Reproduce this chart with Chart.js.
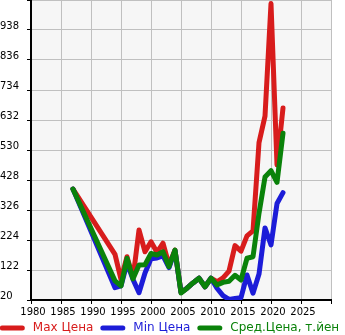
<!DOCTYPE html>
<html>
<head>
<meta charset="utf-8">
<script src="https://cdn.jsdelivr.net/npm/chart.js@4.4.1/dist/chart.umd.min.js"></script>
<style>
  html, body { margin: 0; padding: 0; background: #fff; }
  canvas { display: block; }
</style>
</head>
<body>
<canvas id="chart" width="345" height="335"></canvas>
<script>
// price history by model year
const years = [1987, 1994, 1995, 1996, 1997, 1998, 1999, 2000, 2001, 2002, 2003, 2004,
  2005, 2006, 2007, 2008, 2009, 2010, 2011, 2012, 2013, 2014, 2015, 2016, 2017,
  2018, 2019, 2020, 2021, 2022];
const maxPrice = [397, 175, 90, 167, 95, 258, 184, 218, 182, 213, 139, 190,
  46, 60, 78, 94, 65, 94, 82, 95, 118, 205, 186, 238, 255,
  555, 645, 1028, 479, 673];
const minPrice = [397, 62, 68, 145, 90, 45, 112, 160, 163, 170, 130, 188,
  46, 60, 78, 94, 65, 94, 60, 35, 22, 25, 28, 105, 43,
  108, 265, 207, 348, 385];
const avgPrice = [397, 85, 68, 162, 92, 139, 140, 178, 173, 184, 133, 190,
  44, 60, 78, 94, 65, 94, 71, 80, 84, 104, 88, 162, 167,
  315, 438, 460, 420, 587];

const seriesNames = ['Max Цена', 'Min Цена', 'Сред.Цена, т.йен'];
const yearTicks = [1980, 1985, 1990, 1995, 2000, 2005, 2010, 2015, 2020, 2025];
const priceTicks = [20, 122, 224, 326, 428, 530, 632, 734, 836, 938];

const colors = ['#d81c1c', '#1c1cd8', '#0a820a'];
const font = 'DejaVu Sans';

function points(values) {
  return years.map((yr, i) => ({ x: yr, y: values[i] }));
}

function series(idx, values, order) {
  return {
    label: seriesNames[idx],
    data: points(values),
    borderColor: colors[idx],
    backgroundColor: colors[idx],
    borderWidth: 5,
    borderJoinStyle: 'round',
    borderCapStyle: 'round',
    pointRadius: 0,
    tension: 0,
    order: order
  };
}

// grey plot background
const plotBg = {
  id: 'plotBg',
  beforeDraw(chart) {
    const a = chart.chartArea;
    const ctx = chart.ctx;
    ctx.save();
    ctx.fillStyle = '#f6f6f6';
    ctx.fillRect(a.left, a.top, a.right - a.left, a.bottom - a.top);
    ctx.restore();
  }
};

// single-row legend, centred, allowed to run past the edges
const rowLegend = {
  id: 'rowLegend',
  afterDraw(chart) {
    const ctx = chart.ctx;
    const sets = chart.data.datasets;
    ctx.save();
    ctx.font = '12px "' + font + '"';
    ctx.textBaseline = 'middle';
    const sample = 20, cap = 2.5, gap = 8, spacing = 7;
    const widths = sets.map(ds => cap * 2 + sample + gap + ctx.measureText(ds.label).width);
    const total = widths.reduce((s, w) => s + w, 0) + spacing * (sets.length - 1);
    let x = chart.width / 2 - total / 2 - 3;
    const y = 328;
    sets.forEach((ds, i) => {
      ctx.strokeStyle = ds.borderColor;
      ctx.lineWidth = 5;
      ctx.lineCap = 'round';
      ctx.beginPath();
      ctx.moveTo(x + cap, y);
      ctx.lineTo(x + cap + sample, y);
      ctx.stroke();
      ctx.fillStyle = ds.borderColor;
      ctx.fillText(ds.label, x + cap * 2 + sample + gap, y);
      x += widths[i] + spacing;
    });
    ctx.restore();
  }
};

new Chart(document.getElementById('chart').getContext('2d'), {
  type: 'line',
  data: {
    datasets: [
      series(0, maxPrice, 3),
      series(1, minPrice, 2),
      series(2, avgPrice, 1)
    ]
  },
  options: {
    responsive: false,
    animation: false,
    layout: { padding: { left: 0, right: 14, top: 0, bottom: 0 } },
    plugins: {
      legend: { display: false },
      tooltip: { enabled: false }
    },
    scales: {
      x: {
        type: 'linear',
        min: 1980,
        max: 2030,
        afterFit(s) {
          s.height = 35;
          s.paddingLeft = 0;
          s.paddingRight = 0;
        },
        border: { color: '#000', width: 2 },
        grid: { color: '#c0c0c0', lineWidth: 1, tickColor: '#000', tickLength: 4 },
        ticks: {
          stepSize: 5,
          autoSkip: false,
          maxRotation: 0,
          padding: 2,
          labelOffset: 2,
          color: '#000',
          font: { family: font, size: 10 },
          callback: v => yearTicks.includes(v) ? String(v) : ''
        }
      },
      y: {
        min: 20,
        max: 1040,
        afterFit(s) {
          s.width = 31;
          s.paddingTop = 0;
          s.paddingBottom = 0;
        },
        border: { color: '#000', width: 2 },
        grid: { color: '#c0c0c0', lineWidth: 1, tickColor: '#000', tickLength: 4 },
        ticks: {
          stepSize: 102,
          autoSkip: false,
          crossAlign: 'far',
          labelOffset: -4,
          color: '#000',
          font: { family: font, size: 10 },
          callback: v => priceTicks.includes(v) ? String(v) : ''
        }
      }
    }
  },
  plugins: [plotBg, rowLegend]
});
</script>
</body>
</html>
